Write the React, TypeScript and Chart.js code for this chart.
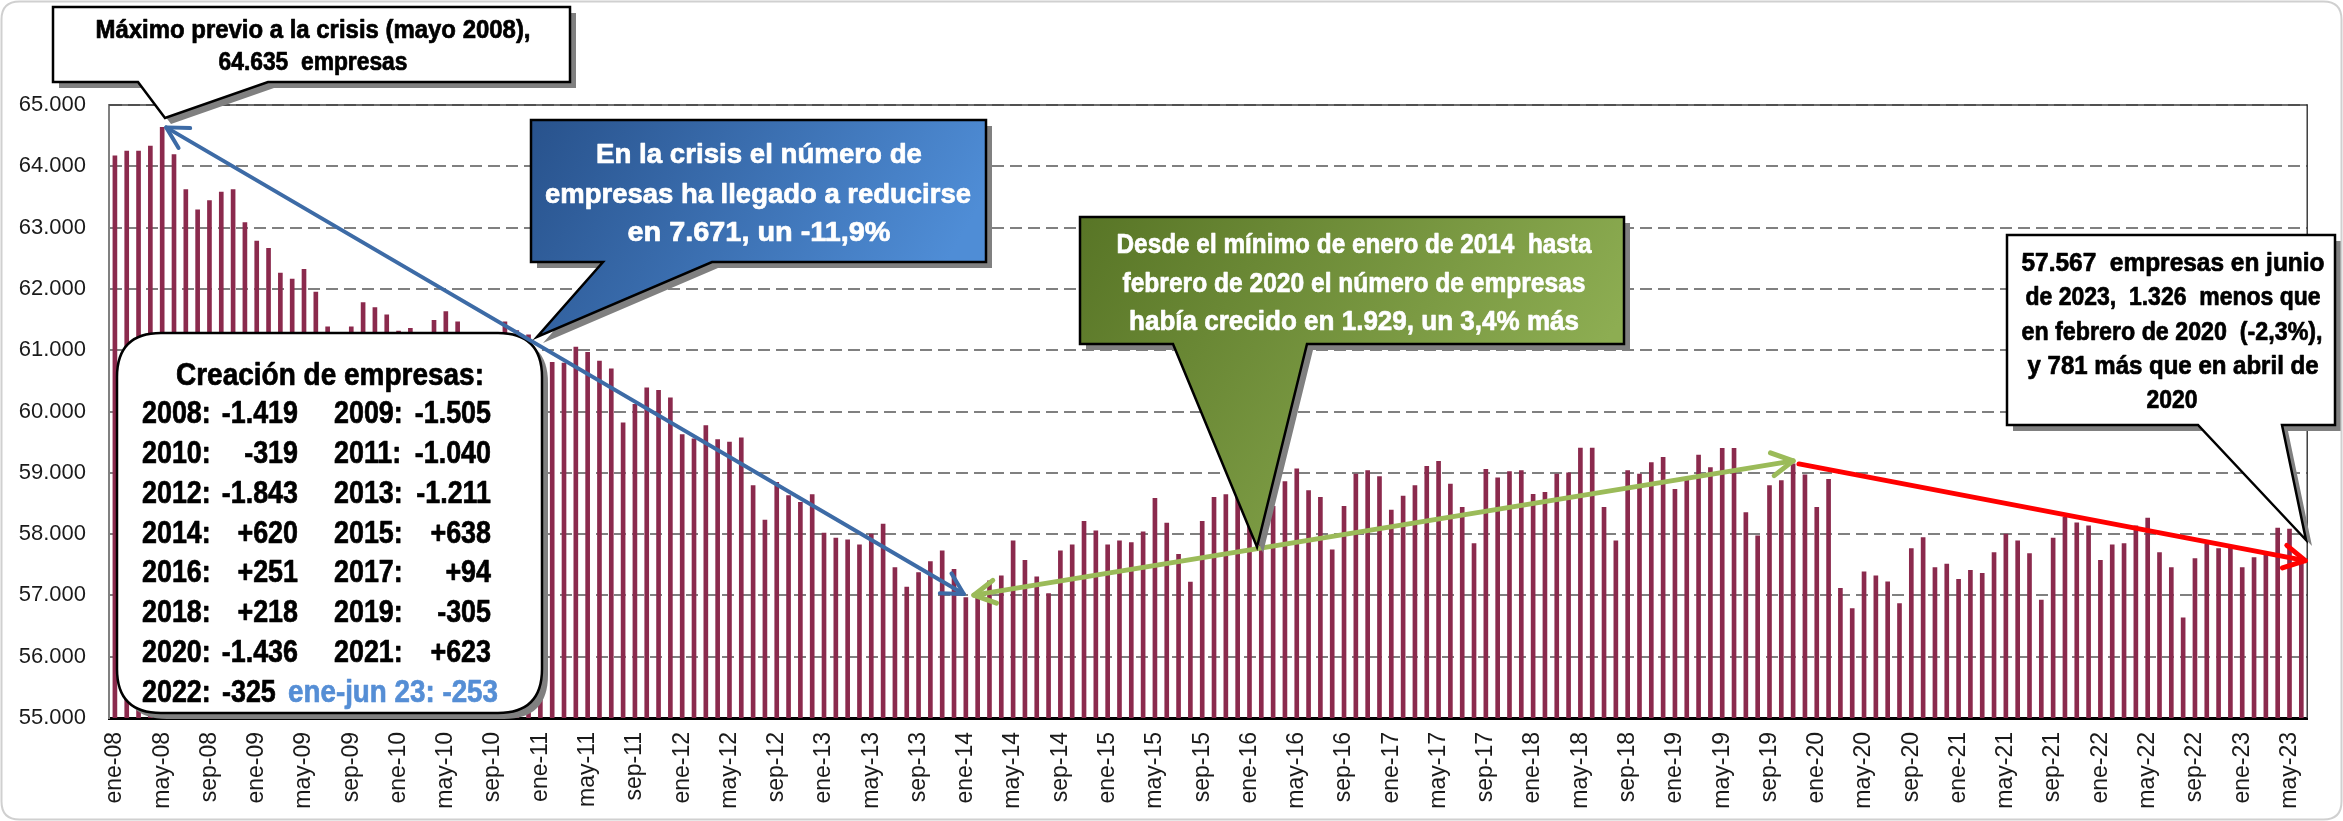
import React, { useEffect, useRef } from 'react';
import { Chart, registerables } from 'chart.js';

Chart.register(...registerables);

const MONTHS = ['ene', 'feb', 'mar', 'abr', 'may', 'jun', 'jul', 'ago', 'sep', 'oct', 'nov', 'dic'];
const START_YEAR = 2008;

const Y2008 = [64170, 64250, 64250, 64330, 64635, 64190, 63620, 63290, 63440, 63580, 63620, 63080];
const Y2009 = [62780, 62660, 62260, 62160, 62320, 61950, 61380, 61150, 61380, 61776, 61694, 61575];
const Y2010 = [61311, 61355, 61200, 61486, 61628, 61463, 61100, 61050, 61150, 61463, 61320, 61250];
const Y2011 = [60842, 60804, 60788, 61049, 60967, 60821, 60698, 59816, 60115, 60385, 60344, 60221];
const Y2012 = [59625, 59554, 59772, 59543, 59500, 59571, 58790, 58229, 58845, 58627, 58518, 58643];
const Y2013 = [58016, 57934, 57907, 57825, 58000, 58163, 57454, 57137, 57372, 57552, 57727, 57427];
const Y2014 = [56964, 57020, 57236, 57318, 57890, 57574, 57302, 57028, 57727, 57825, 58207, 58054];
const Y2015 = [57825, 57890, 57863, 58038, 58583, 58180, 57672, 57219, 58207, 58600, 58643, 58690];
const Y2016 = [58300, 57920, 58452, 58856, 59063, 58708, 58600, 57743, 58452, 58981, 59036, 58938];
const Y2017 = [58392, 58620, 58790, 59106, 59188, 58817, 58436, 57847, 59058, 58916, 59020, 59036];
const Y2018 = [58649, 58681, 58981, 58998, 59402, 59402, 58436, 57890, 59036, 58981, 59167, 59254];
const Y2019 = [58730, 58927, 59290, 59085, 59400, 59400, 58350, 57972, 58790, 58872, 59145, 58965];
const Y2020 = [58436, 58893, 57116, 56786, 57383, 57318, 57220, 56865, 57765, 57945, 57454, 57509];
const Y2021 = [57263, 57410, 57361, 57700, 58000, 57890, 57683, 56925, 57934, 58272, 58185, 58136];
const Y2022 = [57574, 57825, 57847, 58136, 58261, 57700, 57454, 56636, 57600, 57836, 57765, 57781];
const Y2023 = [57454, 57618, 57672, 58098, 58081, 57567];

const SERIES = [
  ...Y2008, ...Y2009, ...Y2010, ...Y2011, ...Y2012, ...Y2013, ...Y2014, ...Y2015,
  ...Y2016, ...Y2017, ...Y2018, ...Y2019, ...Y2020, ...Y2021, ...Y2022, ...Y2023,
];
const LABELS = SERIES.map(
  (_, i) => `${MONTHS[i % 12]}-${String((START_YEAR + Math.floor(i / 12)) % 100).padStart(2, '0')}`
);

const Y_MIN = 55000;
const Y_MAX = 65000;
const Y_STEP = 1000;

const MAX_IDX = 4; // may-08
const MIN_IDX = 72; // ene-14
const PRECOVID_IDX = 142; // nov-19
const LAST_IDX = SERIES.length - 1; // jun-23

const CREACION_LEFT = [
  ['2008:', '-1.419'], ['2010:', '-319'], ['2012:', '-1.843'], ['2014:', '+620'],
  ['2016:', '+251'], ['2018:', '+218'], ['2020:', '-1.436'],
];
const CREACION_RIGHT = [
  ['2009:', '-1.505'], ['2011:', '-1.040'], ['2013:', '-1.211'], ['2015:', '+638'],
  ['2017:', '+94'], ['2019:', '-305'], ['2021:', '+623'],
];
const CREACION_LAST = ['2022:', '-325', 'ene-jun 23: -253'];

const FONT = "'Liberation Sans', Arial, sans-serif";
const BAR_COLOR = '#8B2A4D';

const fmt = (v: number) => String(Math.round(v)).replace(/\B(?=(\d{3})+(?!\d))/g, '.');

function txt(
  ctx: CanvasRenderingContext2D, s: string, x: number, y: number, size: number,
  color: string, align: CanvasTextAlign, width?: number, squeeze = 1
) {
  ctx.save();
  ctx.font = `bold ${size}px ${FONT}`;
  ctx.fillStyle = color;
  ctx.strokeStyle = color;
  ctx.lineWidth = 0.7;
  ctx.lineJoin = 'round';
  ctx.textBaseline = 'middle';
  const w = ctx.measureText(s).width;
  const sx = width ? width / w : squeeze;
  ctx.translate(x, y);
  ctx.scale(sx, 1);
  ctx.textAlign = align;
  ctx.fillText(s, 0, 0);
  ctx.strokeText(s, 0, 0);
  ctx.restore();
}

function calloutPath(ctx: CanvasRenderingContext2D, box: number[], tail?: number[]) {
  const [l, t, r, b] = box;
  ctx.beginPath();
  ctx.moveTo(l, t);
  ctx.lineTo(r, t);
  ctx.lineTo(r, b);
  if (tail) {
    const [bl, br, tx, ty] = tail;
    ctx.lineTo(br, b);
    ctx.lineTo(tx, ty);
    ctx.lineTo(bl, b);
  }
  ctx.lineTo(l, b);
  ctx.closePath();
}

function drawCallout(ctx: CanvasRenderingContext2D, box: number[], tail: number[] | undefined, fill: string | CanvasGradient) {
  ctx.save();
  ctx.translate(6, 6);
  calloutPath(ctx, box, tail);
  ctx.fillStyle = '#808080';
  ctx.fill();
  ctx.restore();
  ctx.save();
  calloutPath(ctx, box, tail);
  ctx.fillStyle = fill;
  ctx.fill();
  ctx.lineWidth = 2.5;
  ctx.strokeStyle = '#000';
  ctx.stroke();
  ctx.restore();
}

function roundRectPath(ctx: CanvasRenderingContext2D, x: number, y: number, w: number, h: number, r: number) {
  ctx.beginPath();
  ctx.moveTo(x + r, y);
  ctx.lineTo(x + w - r, y);
  ctx.quadraticCurveTo(x + w, y, x + w, y + r);
  ctx.lineTo(x + w, y + h - r);
  ctx.quadraticCurveTo(x + w, y + h, x + w - r, y + h);
  ctx.lineTo(x + r, y + h);
  ctx.quadraticCurveTo(x, y + h, x, y + h - r);
  ctx.lineTo(x, y + r);
  ctx.quadraticCurveTo(x, y, x + r, y);
  ctx.closePath();
}

function arrowLine(
  ctx: CanvasRenderingContext2D, x1: number, y1: number, x2: number, y2: number,
  color: string, w: number, startHead: boolean, endHead: boolean
) {
  ctx.save();
  ctx.strokeStyle = color;
  ctx.lineWidth = w;
  ctx.lineCap = 'round';
  ctx.lineJoin = 'round';
  ctx.beginPath();
  ctx.moveTo(x1, y1);
  ctx.lineTo(x2, y2);
  ctx.stroke();
  const head = (tx: number, ty: number, fx: number, fy: number) => {
    const a = Math.atan2(fy - ty, fx - tx);
    const L = 24;
    const s = 0.5;
    ctx.beginPath();
    ctx.moveTo(tx + L * Math.cos(a + s), ty + L * Math.sin(a + s));
    ctx.lineTo(tx, ty);
    ctx.lineTo(tx + L * Math.cos(a - s), ty + L * Math.sin(a - s));
    ctx.stroke();
  };
  if (startHead) head(x1, y1, x2, y2);
  if (endHead) head(x2, y2, x1, y1);
  ctx.restore();
}

const overlayPlugin = {
  id: 'overlay',
  afterDatasetsDraw(chart: any) {
    const ctx: CanvasRenderingContext2D = chart.ctx;
    const { chartArea: ca } = chart;
    const xs = chart.scales.x;
    const ys = chart.scales.y;
    const X = (i: number) => xs.getPixelForValue(i);
    const Y = (v: number) => ys.getPixelForValue(v);

    // plot frame (top & right)
    ctx.save();
    ctx.strokeStyle = '#404040';
    ctx.lineWidth = 1.5;
    ctx.beginPath();
    ctx.moveTo(ca.left, ca.top);
    ctx.lineTo(ca.right, ca.top);
    ctx.lineTo(ca.right, ca.bottom);
    ctx.stroke();
    ctx.restore();

    // Creación de empresas box
    ctx.save();
    roundRectPath(ctx, 123, 339, 425, 380, 44);
    ctx.fillStyle = '#808080';
    ctx.fill();
    roundRectPath(ctx, 117, 333, 425, 380, 44);
    ctx.fillStyle = '#fff';
    ctx.fill();
    ctx.lineWidth = 2.5;
    ctx.strokeStyle = '#000';
    ctx.stroke();
    ctx.restore();
    txt(ctx, 'Creación de empresas:', 330, 376, 32, '#000', 'center', 308);
    const rowsY = [414, 454, 494, 534, 573, 613, 653, 693];
    const SQ = 0.84;
    CREACION_LEFT.forEach((r, k) => {
      txt(ctx, r[0], 142, rowsY[k], 32, '#000', 'left', undefined, SQ);
      txt(ctx, r[1], 298, rowsY[k], 32, '#000', 'right', undefined, SQ);
    });
    CREACION_RIGHT.forEach((r, k) => {
      txt(ctx, r[0], 334, rowsY[k], 32, '#000', 'left', undefined, SQ);
      txt(ctx, r[1], 491, rowsY[k], 32, '#000', 'right', undefined, SQ);
    });
    txt(ctx, CREACION_LAST[0], 142, rowsY[7], 32, '#000', 'left', undefined, SQ);
    txt(ctx, CREACION_LAST[1], 222, rowsY[7], 32, '#000', 'left', undefined, SQ);
    txt(ctx, CREACION_LAST[2], 288, rowsY[7], 32, '#558ED5', 'left', 210);

    // arrows
    arrowLine(ctx, X(MAX_IDX) + 4, Y(SERIES[MAX_IDX]), X(MIN_IDX) - 2, Y(SERIES[MIN_IDX] + 60), '#3D6BA6', 4, true, true);
    arrowLine(ctx, X(MIN_IDX) + 8, Y(SERIES[MIN_IDX] + 40), X(PRECOVID_IDX), Y(SERIES[PRECOVID_IDX] + 50), '#9BBB59', 5, true, true);
    arrowLine(ctx, X(PRECOVID_IDX + 1) - 6, Y(SERIES[PRECOVID_IDX]), X(LAST_IDX) + 4, Y(SERIES[LAST_IDX]), '#FF0000', 5, false, true);

    // Máximo callout
    drawCallout(ctx, [53, 7, 570, 82], [138, 268, 165, 118], '#fff');
    txt(ctx, 'Máximo previo a la crisis (mayo 2008),', 313, 31, 25, '#000', 'center', 435);
    txt(ctx, '64.635  empresas', 313, 63, 25, '#000', 'center', 189);

    // Blue callout
    const gB = ctx.createLinearGradient(531, 120, 900, 340);
    gB.addColorStop(0, '#28528C');
    gB.addColorStop(1, '#4F8DD6');
    drawCallout(ctx, [531, 120, 986, 262], [603, 712, 537, 337], gB);
    txt(ctx, 'En la crisis el número de', 759, 155, 28, '#fff', 'center', 326);
    txt(ctx, 'empresas ha llegado a reducirse', 758, 195, 28, '#fff', 'center', 426);
    txt(ctx, 'en 7.671, un -11,9%', 759, 233, 28, '#fff', 'center', 263);

    // Green callout
    const gG = ctx.createLinearGradient(1080, 217, 1500, 500);
    gG.addColorStop(0, '#587526');
    gG.addColorStop(1, '#8DAD52');
    drawCallout(ctx, [1080, 217, 1624, 344], [1173, 1307, 1257, 547], gG);
    txt(ctx, 'Desde el mínimo de enero de 2014  hasta', 1354, 245, 28, '#fff', 'center', 475);
    txt(ctx, 'febrero de 2020 el número de empresas', 1354, 284, 28, '#fff', 'center', 463);
    txt(ctx, 'había crecido en 1.929, un 3,4% más', 1354, 322, 28, '#fff', 'center', 450);

    // Right callout
    drawCallout(ctx, [2007, 235, 2335, 425], [2198, 2282, 2306, 540], '#fff');
    txt(ctx, '57.567  empresas en junio', 2173, 264, 25, '#000', 'center', 303);
    txt(ctx, 'de 2023,  1.326  menos que', 2173, 298, 25, '#000', 'center', 295);
    txt(ctx, 'en febrero de 2020  (-2,3%),', 2172, 333, 25, '#000', 'center', 301);
    txt(ctx, 'y 781 más que en abril de', 2173, 367, 25, '#000', 'center', 291);
    txt(ctx, '2020', 2172, 401, 25, '#000', 'center', 51);
  },
  afterDraw(chart: any) {
    const ctx: CanvasRenderingContext2D = chart.ctx;
    ctx.save();
    roundRectPath(ctx, 1.5, 1.5, chart.width - 3, chart.height - 3, 18);
    ctx.strokeStyle = '#d0d0d0';
    ctx.lineWidth = 2;
    ctx.stroke();
    ctx.restore();
  },
};

export default function App() {
  const ref = useRef<HTMLCanvasElement | null>(null);

  useEffect(() => {
    if (!ref.current) return;
    const chart = new Chart(ref.current, {
      type: 'bar',
      data: {
        labels: LABELS,
        datasets: [
          {
            data: SERIES,
            backgroundColor: BAR_COLOR,
            borderWidth: 0,
            barThickness: 4,
          },
        ],
      },
      options: {
        animation: false,
        responsive: false,
        maintainAspectRatio: false,
        layout: { padding: { top: 105, right: 30, left: 0, bottom: 0 } },
        plugins: { legend: { display: false }, tooltip: { enabled: false } },
        scales: {
          x: {
            grid: { display: false, drawTicks: false },
            border: { display: true, color: '#000', width: 3 },
            ticks: {
              autoSkip: false,
              minRotation: 90,
              maxRotation: 90,
              padding: 14,
              color: '#1a1a1a',
              font: { family: FONT, size: 23 },
              callback: (_v: any, i: number) => (i % 4 === 0 ? LABELS[i] : ''),
            },
            afterFit: (s: any) => {
              s.height = 103;
            },
          },
          y: {
            min: Y_MIN,
            max: Y_MAX,
            ticks: {
              stepSize: Y_STEP,
              padding: 23,
              color: '#1a1a1a',
              font: { family: FONT, size: 22 },
              callback: (v: any) => fmt(Number(v)),
            },
            grid: { color: '#808080', lineWidth: 2, drawTicks: false },
            border: { color: '#808080', width: 2, dash: [12, 6] },
            afterFit: (s: any) => {
              s.width = 109;
            },
          },
        },
      } as any,
      plugins: [overlayPlugin],
    });
    return () => chart.destroy();
  }, []);

  return (
    <div style={{ position: 'absolute', left: 0, top: 0, width: 2343, height: 821, background: '#fff' }}>
      <canvas ref={ref} width={2343} height={821} style={{ width: 2343, height: 821, display: 'block' }} />
    </div>
  );
}
